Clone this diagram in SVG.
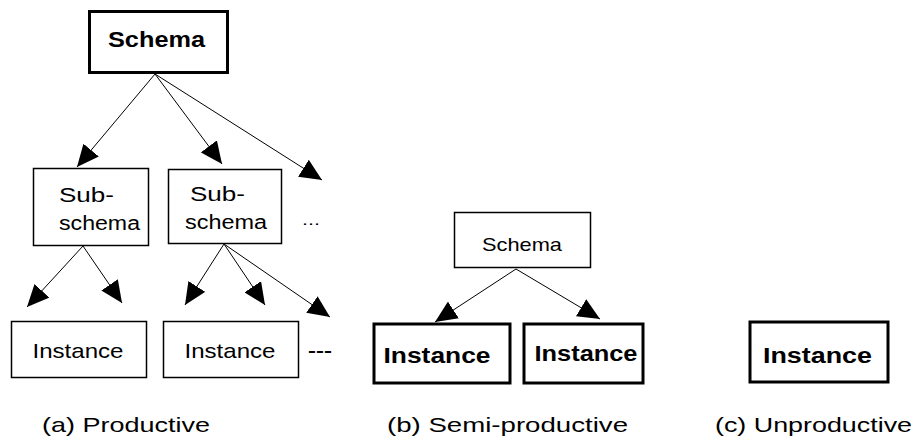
<svg xmlns="http://www.w3.org/2000/svg" width="915" height="439" viewBox="0 0 915 439">
<style>
.box{fill:#fff;stroke:#000;stroke-width:1.5}
.thick{fill:#fff;stroke:#000;stroke-width:3}
.t{font-family:"Liberation Sans",Arial,sans-serif;font-size:21px;fill:#000;text-anchor:middle}
.b{font-family:"Liberation Sans",Arial,sans-serif;font-size:22px;font-weight:bold;fill:#000;text-anchor:middle}
.l{font-family:"Liberation Sans",Arial,sans-serif;font-size:20px;fill:#000}
.cap{font-family:"Liberation Sans",Arial,sans-serif;font-size:21px;fill:#000}
.c{stroke:#000;stroke-width:1;fill:none;marker-end:url(#ah)}
</style>
<defs>
<marker id="ah" viewBox="0 0 22 20" refX="22" refY="10" markerWidth="22" markerHeight="20" markerUnits="userSpaceOnUse" orient="auto">
<path d="M0,0 L22,10 L0,20 z" fill="#000"/>
</marker>
</defs>
<rect width="915" height="439" fill="#fff"/>
<g id="connectors">
<line class="c" x1="155" y1="74" x2="77" y2="167"/>
<line class="c" x1="155" y1="74" x2="222" y2="164"/>
<line class="c" x1="155" y1="74" x2="322" y2="180"/>
<line class="c" x1="83" y1="246" x2="27" y2="307"/>
<line class="c" x1="83" y1="246" x2="122" y2="303"/>
<line class="c" x1="224" y1="244" x2="185" y2="305"/>
<line class="c" x1="224" y1="244" x2="265" y2="305"/>
<line class="c" x1="224" y1="244" x2="330" y2="317"/>
<line class="c" x1="516" y1="269" x2="435" y2="322"/>
<line class="c" x1="516" y1="269" x2="600" y2="319"/>
</g>
<g id="schema-a">
<rect class="thick" x="89.5" y="11.5" width="138" height="61"/>
<text class="b" x="156.5" y="47" textLength="97" lengthAdjust="spacingAndGlyphs">Schema</text>
</g>
<g id="subschema-1">
<rect class="box" x="33.5" y="168.5" width="115" height="77"/>
<text class="l" x="59" y="202" textLength="55" lengthAdjust="spacingAndGlyphs">Sub-</text>
<text class="l" x="59" y="230" textLength="81" lengthAdjust="spacingAndGlyphs">schema</text>
</g>
<g id="subschema-2">
<rect class="box" x="168.5" y="169.5" width="113" height="74"/>
<text class="l" x="190" y="201" textLength="55" lengthAdjust="spacingAndGlyphs">Sub-</text>
<text class="l" x="185" y="229" textLength="82" lengthAdjust="spacingAndGlyphs">schema</text>
</g>
<g id="more-subschema">
<text class="l" x="302" y="225" textLength="18" lengthAdjust="spacingAndGlyphs" style="font-size:14px">...</text>
</g>
<g id="instance-a1">
<rect class="box" x="11.5" y="321.5" width="135" height="56"/>
<text class="t" x="78" y="358" textLength="91" lengthAdjust="spacingAndGlyphs">Instance</text>
</g>
<g id="instance-a2">
<rect class="box" x="163.5" y="321.5" width="135" height="56"/>
<text class="t" x="230" y="358" textLength="91" lengthAdjust="spacingAndGlyphs">Instance</text>
</g>
<g id="more-instance">
<text class="l" x="308" y="356" textLength="24" lengthAdjust="spacingAndGlyphs" style="font-size:16px;font-weight:bold">---</text>
</g>
<g id="schema-b">
<rect class="box" x="454.5" y="212.5" width="136" height="55"/>
<text class="t" x="522" y="251" textLength="80" lengthAdjust="spacingAndGlyphs" style="font-size:19px">Schema</text>
</g>
<g id="instance-b1">
<rect class="thick" x="374" y="324" width="136" height="59"/>
<text class="b" x="437" y="363" textLength="107" lengthAdjust="spacingAndGlyphs">Instance</text>
</g>
<g id="instance-b2">
<rect class="thick" x="524" y="324" width="119" height="59"/>
<text class="b" x="586" y="361" textLength="103" lengthAdjust="spacingAndGlyphs">Instance</text>
</g>
<g id="instance-c">
<rect class="thick" x="750" y="322" width="138" height="60"/>
<text class="b" x="817.5" y="363" textLength="109" lengthAdjust="spacingAndGlyphs">Instance</text>
</g>
<g id="captions">
<text class="cap" x="42" y="432" textLength="168" lengthAdjust="spacingAndGlyphs">(a) Productive</text>
<text class="cap" x="387" y="432" textLength="241" lengthAdjust="spacingAndGlyphs">(b) Semi-productive</text>
<text class="cap" x="715" y="432" textLength="197" lengthAdjust="spacingAndGlyphs">(c) Unproductive</text>
</g>
</svg>
